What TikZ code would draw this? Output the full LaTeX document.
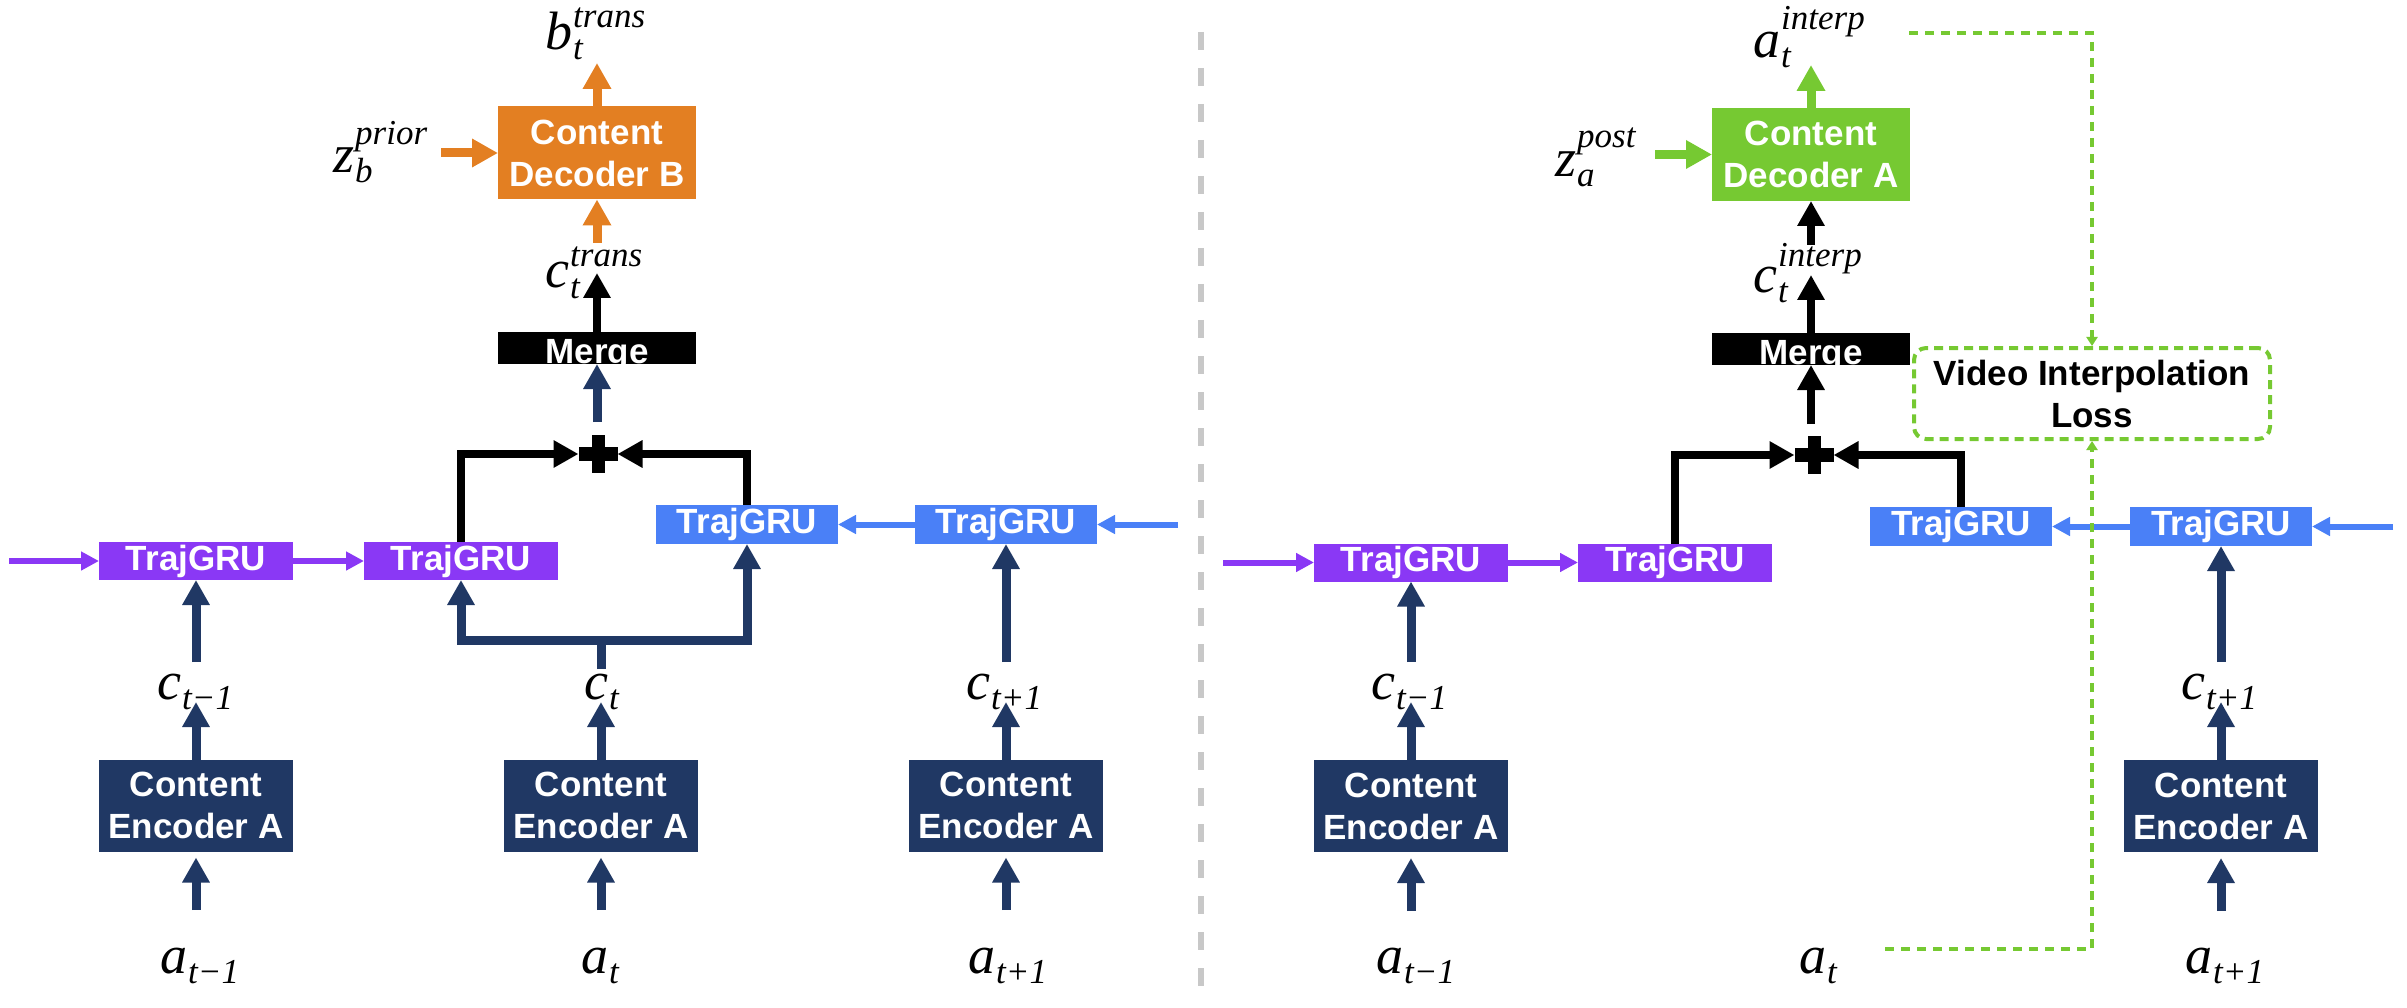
\documentclass[tikz,border=0pt]{standalone}
\usepackage{fontspec}
\setmainfont{Liberation Sans}
\newfontfamily\tms{Liberation Serif}
\usetikzlibrary{arrows.meta}
\definecolor{cnavy}{RGB}{32,56,100}
\definecolor{corange}{RGB}{227,127,34}
\definecolor{cgreen}{RGB}{118,201,50}
\definecolor{cpurple}{RGB}{138,56,245}
\definecolor{cblue}{RGB}{74,128,247}
\definecolor{cgray}{RGB}{200,200,200}
\newcommand\bigit[1]{{\tms\itshape\fontsize{54}{54}\selectfont #1}}
\newcommand\smit[1]{{\tms\itshape\fontsize{35}{35}\selectfont #1}}
\newcommand\lsub[2]{\hbox{\bigit{#1}\kern1pt\lower10pt\hbox{\smit{#2}}}}
\newcommand\lsubsup[4]{\hbox{\bigit{#1}\kern1pt\rlap{\raise#4pt\hbox{\smit{#3}}}\lower10pt\hbox{\smit{#2}}}}
\tikzset{
  blk/.style={inner sep=0pt, outer sep=0pt, font=\fontsize{35}{42}\selectfont\bfseries, text=white, align=center},
  encbox/.style={blk, fill=cnavy, minimum width=194pt, minimum height=92pt},
  ptg/.style={blk, fill=cpurple, minimum width=194pt, minimum height=38pt},
  btg/.style={blk, fill=cblue, minimum width=182pt, minimum height=39pt},
  decbox/.style={blk, minimum width=198pt, minimum height=93pt},
  mrg/.style={inner sep=0pt, outer sep=0pt, fill=black, minimum width=198pt, minimum height=32pt},
  mrgtext/.style={inner sep=0pt, anchor=base, font=\fontsize{35}{42}\selectfont\bfseries, text=white},
  plusn/.style={inner sep=0pt, outer sep=0pt, minimum width=39pt, minimum height=38pt},
  lbl/.style={inner sep=0pt, anchor=base west},
  navyln/.style={cnavy, line width=9pt},
  navyarr/.style={navyln, -{Triangle[length=25pt,width=26pt]}},
  blkarr/.style={black, line width=8pt, -{Triangle[length=25pt,width=26pt]}},
  orarr/.style={corange, line width=9pt, -{Triangle[length=26pt,width=27pt]}},
  grarr/.style={cgreen, line width=9pt, -{Triangle[length=26pt,width=27pt]}},
  purarr/.style={cpurple, line width=6pt, -{Triangle[length=18pt,width=18pt]}},
  bluarr/.style={cblue, line width=6pt, -{Triangle[length=18pt,width=18pt]}},
  gdash/.style={cgreen, line width=4pt, dash pattern=on 9pt off 7pt, -{Triangle[length=9pt,width=11pt]}},
}
\begin{document}
\begin{tikzpicture}[x=1pt,y=-1pt]
\useasboundingbox (0,0) rectangle (2407,1008);
% divider
\draw[cgray, line width=6pt, dash pattern=on 18pt off 18pt] (1201,32) -- (1201,986);

% ================= LEFT PANEL =================
\node[decbox, fill=corange] (decB) at (597,153) {Content\\Decoder B};
\node[mrg] (mrgL) at (597,348) {};
\begin{scope}
  \clip (mrgL.south west) rectangle (mrgL.north east);
  \node[mrgtext] (mrgLt) at (597,363) {Merge};
\end{scope}
\node[ptg] (pTGa) at (196,561) {TrajGRU};
\node[ptg] (pTGb) at (461,561) {TrajGRU};
\node[btg] (bTGa) at (747,524.5) {TrajGRU};
\node[btg] (bTGb) at (1006,524.5) {TrajGRU};
\node[encbox] (encLa) at (196,805.5) {Content\\Encoder A};
\node[encbox] (encLb) at (601,805.5) {Content\\Encoder A};
\node[encbox] (encLc) at (1006,805.5) {Content\\Encoder A};
\node[plusn] (plusL) at (598,454) {};
\fill ([yshift=-7pt]plusL.west) rectangle ([yshift=7pt]plusL.east);
\fill ([xshift=-6.5pt]plusL.south) rectangle ([xshift=6.5pt]plusL.north);

% labels
\node[lbl] (bL) at (545,50) {\lsubsup{b}{t}{trans}{22}};
\node[lbl] (zL) at (333,173) {\lsubsup{z}{b}{prior}{28}};
\node[lbl] (ctrL) at (545,288) {\lsubsup{c}{t}{trans}{21}};
\node[lbl] (c1L) at (157,699) {\lsub{c}{t−1}};
\node[lbl] (c2L) at (584,699) {\lsub{c}{t}};
\node[lbl] (c3L) at (966,699) {\lsub{c}{t+1}};
\node[lbl] (a1L) at (160,973) {\lsub{a}{t−1}};
\node[lbl] (a2L) at (581,973) {\lsub{a}{t}};
\node[lbl] (a3L) at (968,973) {\lsub{a}{t+1}};

% coordinates
\coordinate (zLe) at (441,153);
\coordinate (bLe) at (597,63);
\coordinate (ctrLs) at (597,243);
\coordinate (ctrLe) at (597,273);
\coordinate (mLs) at (597,422);
\coordinate (c1Lt) at (196,662);
\coordinate (c1Lb) at (196,702);
\coordinate (a1Lt) at (196,910);
\coordinate (c2Lt) at (601,669);
\coordinate (jL) at (601,640);
\coordinate (c2Lb) at (601,702);
\coordinate (a2Lt) at (601,910);
\coordinate (c3Lt) at (1006,662);
\coordinate (c3Lb) at (1006,702);
\coordinate (a3Lt) at (1006,910);
\coordinate (pinL) at (9,561);
\coordinate (binL) at (1178,524.5);

\draw[orarr] (zLe) -- (decB.west);
\draw[orarr] (decB.north) -- (bLe);
\draw[orarr] (ctrLs) -- (decB.south);
\draw[blkarr] (mrgL.north) -- (ctrLe);
\draw[navyarr] (mLs) -- (mrgL.south);
\draw[blkarr] (pTGb.north) |- (plusL.west);
\draw[blkarr] (bTGa.north) |- (plusL.east);
\draw[navyln] (c2Lt) -- (jL);
\draw[navyarr] (jL) -| (pTGb.south);
\draw[navyarr] (jL) -| (bTGa.south);
\draw[navyarr] (c1Lt) -- (pTGa.south);
\draw[navyarr] (c3Lt) -- (bTGb.south);
\draw[navyarr] (encLa.north) -- (c1Lb);
\draw[navyarr] (encLb.north) -- (c2Lb);
\draw[navyarr] (encLc.north) -- (c3Lb);
\draw[navyarr, shorten >=6pt] (a1Lt) -- (encLa.south);
\draw[navyarr, shorten >=6pt] (a2Lt) -- (encLb.south);
\draw[navyarr, shorten >=6pt] (a3Lt) -- (encLc.south);
\draw[purarr] (pinL) -- (pTGa.west);
\draw[purarr] (pTGa.east) -- (pTGb.west);
\draw[bluarr] (binL) -- (bTGb.east);
\draw[bluarr] (bTGb.west) -- (bTGa.east);

% ================= RIGHT PANEL =================
\node[decbox, fill=cgreen] (decA) at (1811,154.5) {Content\\Decoder A};
\node[mrg] (mrgR) at (1811,349) {};
\begin{scope}
  \clip (mrgR.south west) rectangle (mrgR.north east);
  \node[mrgtext] (mrgRt) at (1811,364) {Merge};
\end{scope}
\node[ptg] (pTGc) at (1411,562.5) {TrajGRU};
\node[ptg] (pTGd) at (1675,562.5) {TrajGRU};
\node[btg] (bTGc) at (1961,526.5) {TrajGRU};
\node[btg] (bTGd) at (2221,526.5) {TrajGRU};
\node[encbox] (encRa) at (1411,806) {Content\\Encoder A};
\node[encbox] (encRc) at (2221,806) {Content\\Encoder A};
\node[plusn] (plusR) at (1814,455) {};
\fill ([yshift=-7pt]plusR.west) rectangle ([yshift=7pt]plusR.east);
\fill ([xshift=-6.5pt]plusR.south) rectangle ([xshift=6.5pt]plusR.north);
\node[draw=cgreen, line width=4pt, dash pattern=on 9pt off 6pt, rounded corners=12pt,
      minimum width=356pt, minimum height=91pt, inner sep=0pt,
      font=\fontsize{35}{42}\selectfont\bfseries, align=center] (loss) at (2092,393.5) {Video Interpolation\\Loss};

\node[lbl] (aiR) at (1753,58) {\lsubsup{a}{t}{interp}{28}};
\node[lbl] (zR) at (1555,177) {\lsubsup{z}{a}{post}{29}};
\node[lbl] (ciR) at (1753,293) {\lsubsup{c}{t}{interp}{26}};
\node[lbl] (c1R) at (1371,699) {\lsub{c}{t−1}};
\node[lbl] (c3R) at (2181,699) {\lsub{c}{t+1}};
\node[lbl] (a1R) at (1376,973) {\lsub{a}{t−1}};
\node[lbl] (a2R) at (1799,973) {\lsub{a}{t}};
\node[lbl] (a3R) at (2185,973) {\lsub{a}{t+1}};

\coordinate (zRe) at (1655,154.5);
\coordinate (aRe) at (1811,65);
\coordinate (ciRs) at (1811,245);
\coordinate (ciRe) at (1811,275);
\coordinate (mRs) at (1811,424);
\coordinate (c1Rt) at (1411,662);
\coordinate (c1Rb) at (1411,702);
\coordinate (a1Rt) at (1411,911);
\coordinate (c3Rt) at (2221,662);
\coordinate (c3Rb) at (2221,702);
\coordinate (a3Rt) at (2221,911);
\coordinate (pinR) at (1223,562.5);
\coordinate (binR) at (2393,526.5);
\coordinate (dTop) at (1909,33);
\coordinate (dBot) at (1885,949);

\draw[grarr] (zRe) -- (decA.west);
\draw[grarr] (decA.north) -- (aRe);
\draw[blkarr] (ciRs) -- (decA.south);
\draw[blkarr] (mrgR.north) -- (ciRe);
\draw[blkarr] (mRs) -- (mrgR.south);
\draw[blkarr] (pTGd.north) |- (plusR.west);
\draw[blkarr] (bTGc.north) |- (plusR.east);
\draw[navyarr] (c1Rt) -- (pTGc.south);
\draw[navyarr] (c3Rt) -- (bTGd.south);
\draw[navyarr] (encRa.north) -- (c1Rb);
\draw[navyarr] (encRc.north) -- (c3Rb);
\draw[navyarr, shorten >=6pt] (a1Rt) -- (encRa.south);
\draw[navyarr, shorten >=6pt] (a3Rt) -- (encRc.south);
\draw[purarr] (pinR) -- (pTGc.west);
\draw[purarr] (pTGc.east) -- (pTGd.west);
\draw[bluarr] (binR) -- (bTGd.east);
\draw[bluarr] (bTGd.west) -- (bTGc.east);
\draw[gdash] (dTop) -| (loss.north);
\draw[gdash] (dBot) -| (loss.south);
\end{tikzpicture}
\end{document}
